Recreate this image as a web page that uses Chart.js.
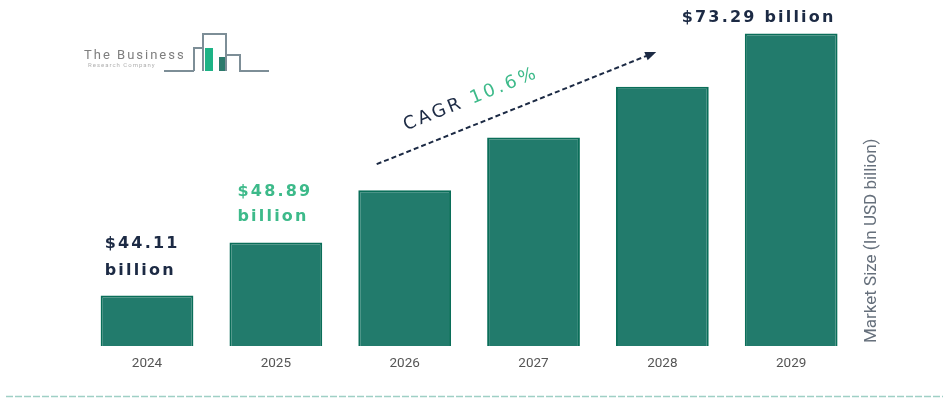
<!DOCTYPE html>
<html><head><meta charset="utf-8">
<script src="https://cdn.jsdelivr.net/npm/chart.js@4.4.1/dist/chart.umd.min.js"></script>
<style>html,body{margin:0;padding:0;background:#fff;}canvas{display:block;}</style>
</head><body>
<canvas id="c" width="943" height="398"></canvas>
<script>
const years = ['2024', '2025', '2026', '2027', '2028', '2029'];
const marketSize = [44.11, 48.89, 54.1, 59.9, 66.1, 73.29];
const labeledBars = [0, 1, 5];
const cagrWord = 'CAGR';
const cagrValue = '10.6%';
const yTitle = 'Market Size (In USD billion)';
const logoLine1 = 'The Business';
const logoLine2 = 'Research Company';

const NAVY = '#1c2a44', GREEN = '#3dba8a';

const annot = {
  id: 'annot',
  beforeDraw(chart) {
    const ctx = chart.ctx;
    ctx.save();
    ctx.fillStyle = '#fff';
    ctx.fillRect(0, 0, chart.width, chart.height);
    // logo
    ctx.fillStyle = '#7e7e7e';
    ctx.font = '13px Roboto';
    ctx.letterSpacing = '2px';
    ctx.textBaseline = 'middle';
    ctx.textAlign = 'left';
    ctx.fillText(logoLine1, 84, 56);
    ctx.fillStyle = '#b0b0b0';
    ctx.font = '6px Roboto';
    ctx.letterSpacing = '1px';
    ctx.fillText(logoLine2, 88, 65);
    ctx.letterSpacing = '0px';
    ctx.strokeStyle = '#7d8e97';
    ctx.lineWidth = 2;
    ctx.beginPath();
    ctx.moveTo(164, 71); ctx.lineTo(194, 71);
    ctx.moveTo(194, 71); ctx.lineTo(194, 48); ctx.lineTo(203, 48);
    ctx.moveTo(203, 71); ctx.lineTo(203, 34); ctx.lineTo(226, 34); ctx.lineTo(226, 71);
    ctx.moveTo(226, 55); ctx.lineTo(240, 55); ctx.lineTo(240, 71); ctx.lineTo(269, 71);
    ctx.stroke();
    ctx.fillStyle = '#1db386';
    ctx.fillRect(205, 48, 8, 23);
    ctx.fillStyle = '#2c7a6c';
    ctx.fillRect(219, 57, 6, 14);
    // bottom dashed rule
    ctx.strokeStyle = '#9fd0c5';
    ctx.lineWidth = 1.5;
    ctx.setLineDash([7, 2]);
    ctx.beginPath();
    ctx.moveTo(6, 396.5); ctx.lineTo(943, 396.5);
    ctx.stroke();
    ctx.restore();
  },
  afterDatasetsDraw(chart) {
    const ctx = chart.ctx;
    const bars = chart.getDatasetMeta(0).data;
    const left = b => b.x - b.width / 2;
    const right = b => b.x + b.width / 2;
    ctx.save();
    ctx.font = 'bold 16px "DejaVu Sans"';
    ctx.letterSpacing = '2.2px';
    ctx.textBaseline = 'middle';
    // 2024 label
    let b = bars[labeledBars[0]];
    ctx.fillStyle = NAVY; ctx.textAlign = 'left';
    ctx.fillText('$' + marketSize[labeledBars[0]].toFixed(2), left(b) + 4, b.y - 52);
    ctx.fillText('billion', left(b) + 4, b.y - 25);
    // 2025 label
    b = bars[labeledBars[1]];
    ctx.fillStyle = GREEN;
    ctx.fillText('$' + marketSize[labeledBars[1]].toFixed(2), left(b) + 8, b.y - 51);
    ctx.fillText('billion', left(b) + 8, b.y - 26);
    // 2029 label
    b = bars[labeledBars[2]];
    ctx.fillStyle = NAVY; ctx.textAlign = 'right';
    ctx.fillText('$' + marketSize[labeledBars[2]].toFixed(2) + ' billion', right(b) - 2, b.y - 16);

    // CAGR arrow
    const s = {x: bars[2].x - 28, y: bars[2].y - 26};
    const e = {x: bars[4].x - 8, y: bars[4].y - 34};
    const ang = Math.atan2(e.y - s.y, e.x - s.x);
    ctx.strokeStyle = NAVY;
    ctx.lineWidth = 2;
    ctx.setLineDash([5, 3]);
    ctx.beginPath();
    ctx.moveTo(s.x, s.y);
    ctx.lineTo(e.x - 6 * Math.cos(ang), e.y - 6 * Math.sin(ang));
    ctx.stroke();
    ctx.setLineDash([]);
    ctx.fillStyle = NAVY;
    ctx.save();
    ctx.translate(e.x, e.y);
    ctx.rotate(ang);
    ctx.beginPath();
    ctx.moveTo(2, 0); ctx.lineTo(-9, -4.5); ctx.lineTo(-9, 4.5); ctx.closePath();
    ctx.fill();
    ctx.restore();

    // CAGR text
    const t = 0.34;
    const px = s.x + t * (e.x - s.x), py = s.y + t * (e.y - s.y);
    ctx.save();
    ctx.translate(px, py - 27);
    ctx.rotate(ang);
    ctx.font = '500 18px "DejaVu Sans"';
    ctx.letterSpacing = '3px';
    ctx.textAlign = 'left';
    ctx.textBaseline = 'middle';
    const w1 = ctx.measureText(cagrWord + ' ').width;
    const w2 = ctx.measureText(cagrValue).width;
    const x0 = -(w1 + w2) / 2;
    ctx.fillStyle = NAVY;
    ctx.fillText(cagrWord + ' ', x0, 0);
    ctx.fillStyle = GREEN;
    ctx.fillText(cagrValue, x0 + w1, 0);
    ctx.restore();

    // Y axis title on right
    const ca = chart.chartArea;
    ctx.save();
    ctx.translate(ca.right + 16.5, ca.bottom - 3);
    ctx.rotate(-Math.PI / 2);
    ctx.font = '17px Roboto';
    ctx.letterSpacing = '0px';
    ctx.fillStyle = '#66707c';
    ctx.textAlign = 'left';
    ctx.textBaseline = 'middle';
    ctx.fillText(yTitle, 0, 0);
    ctx.restore();
    ctx.restore();
  }
};

new Chart(document.getElementById('c'), {
  type: 'bar',
  data: {
    labels: years,
    datasets: [{
      data: marketSize,
      backgroundColor: '#227b6c',
      borderColor: '#0a6e59',
      borderWidth: 2,
      categoryPercentage: 1,
      barPercentage: 0.72
    }]
  },
  options: {
    responsive: false,
    animation: false,
    layout: {padding: {left: 82.6, right: 87.4, top: 0, bottom: 0}},
    plugins: {legend: {display: false}, tooltip: {enabled: false}},
    scales: {
      x: {
        grid: {display: false, drawTicks: false},
        border: {display: false},
        ticks: {color: '#555555', font: {family: 'Roboto', size: 13.5}, padding: 10},
        afterFit: a => { a.height = 52; }
      },
      y: {
        type: 'logarithmic',
        display: false,
        bounds: 'data',
        min: 40,
        max: 78.2
      }
    }
  },
  plugins: [annot]
});
</script>
</body></html>
